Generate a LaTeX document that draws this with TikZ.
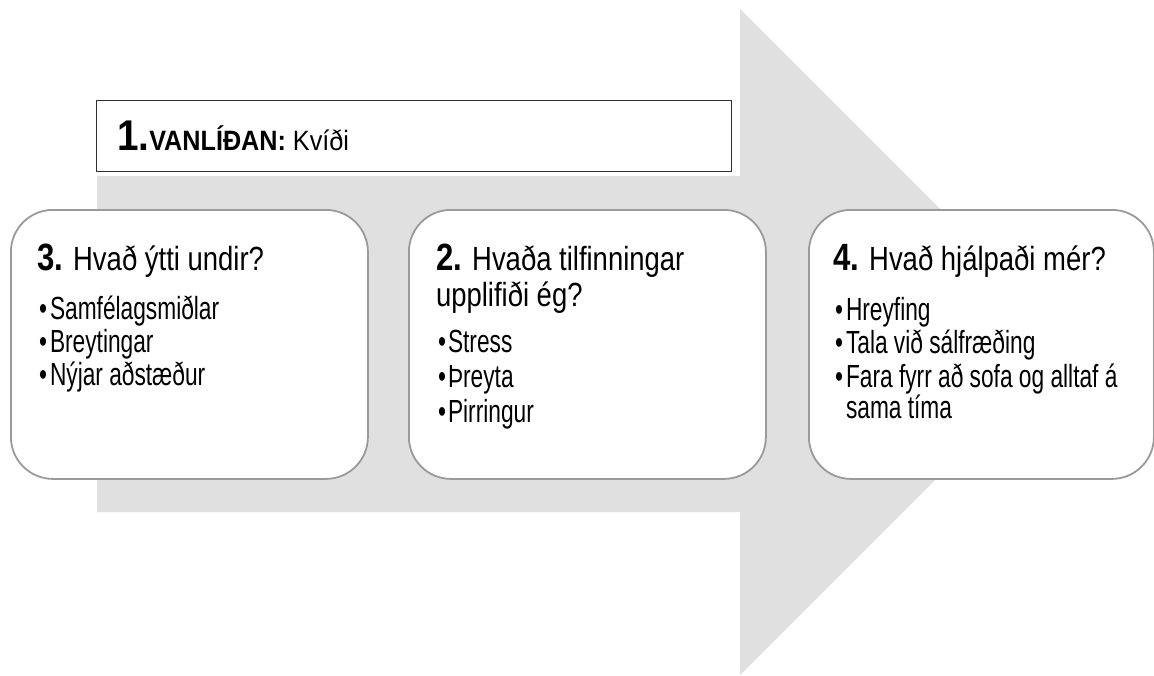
\documentclass[tikz,border=0pt]{standalone}
\usepackage{fontspec}
\setmainfont{Liberation Sans}[FakeStretch=0.9]
\newfontfamily\hdrfont{Liberation Sans}[FakeStretch=0.9]
\newfontfamily\ttlfont{Liberation Sans}[FakeStretch=0.82]
\newfontfamily\bulfont{Liberation Sans}[FakeStretch=0.71]
\definecolor{arrowgray}{HTML}{E0E0E0}
\definecolor{cardline}{HTML}{9A9A9A}
\definecolor{hdrline}{HTML}{303030}
\newcommand{\mynum}{\ttlfont\fontsize{38}{44}\selectfont\bfseries}
\newcommand{\mytitle}{\ttlfont\fontsize{33.5}{38}\selectfont\mdseries}
\newcommand{\mybul}{\bulfont\fontsize{32}{26.5}\selectfont}
\begin{document}
\begin{tikzpicture}[x=1pt,y=-1pt,
  card/.style={draw=cardline, line width=1.8pt, fill=white, rounded corners=42pt, anchor=north west, inner sep=0pt, minimum height=269pt},
  hdrbox/.style={draw=hdrline, line width=1.2pt, fill=white, anchor=north west, inner sep=0pt, minimum width=635pt, minimum height=71pt},
  txt/.style={anchor=base west, inner sep=0pt, outer sep=0pt}]
\useasboundingbox (0,0) rectangle (1154,675);
% big arrow
\fill[arrowgray] (97,176) -- (740,176) -- (740,9) -- (1073,342) -- (740,675) -- (740,512) -- (97,512) -- cycle;
% header box
\node[hdrbox] (hdr) at (96,100) {};
\node[txt] (hdrtxt) at (117,150) {\hdrfont{\fontsize{43}{48}\selectfont\bfseries 1.}{\fontsize{28}{32}\selectfont\bfseries VANLÍÐAN:}\fontsize{28}{32}\selectfont{} Kvíði};
% cards
\node[card, minimum width=357pt] (c3) at (10,209) {};
\node[card, minimum width=357pt] (c2) at (408,209) {};
\node[card, minimum width=345pt] (c4) at (808,209) {};
% card 3
\node[txt] (t3) at (37,270) {{\mynum 3.}\mytitle{} Hvað ýtti undir?};
\node[txt] (b3a) at (39,319) {\mybul •};
\node[txt] (i3a) at (50,319) {\mybul Samfélagsmiðlar};
\node[txt] (b3b) at (39,352) {\mybul •};
\node[txt] (i3b) at (50,352) {\mybul Breytingar};
\node[txt] (b3c) at (39,385) {\mybul •};
\node[txt] (i3c) at (50,385) {\mybul Nýjar aðstæður};
% card 2
\node[txt] (t2a) at (436,270) {{\mynum 2.}\mytitle{} Hvaða tilfinningar};
\node[txt] (t2b) at (436,306) {\mytitle upplifiði ég?};
\node[txt] (b2a) at (438,352) {\mybul •};
\node[txt] (i2a) at (448,352) {\mybul Stress};
\node[txt] (b2b) at (438,387) {\mybul •};
\node[txt] (i2b) at (448,387) {\mybul Þreyta};
\node[txt] (b2c) at (438,422) {\mybul •};
\node[txt] (i2c) at (448,422) {\mybul Pirringur};
% card 4
\node[txt] (t4) at (833,270) {{\mynum 4.}\mytitle{} Hvað hjálpaði mér?};
\node[txt] (b4a) at (835,320) {\mybul •};
\node[txt] (i4a) at (846,320) {\mybul Hreyfing};
\node[txt] (b4b) at (835,353) {\mybul •};
\node[txt] (i4b) at (846,353) {\mybul Tala við sálfræðing};
\node[txt] (b4c) at (835,387) {\mybul •};
\node[txt] (i4c) at (846,387) {\mybul\vtop{\baselineskip=26.5pt\hbox{Fara fyrr að sofa og alltaf á}\hbox{sama tíma}}};
\end{tikzpicture}
\end{document}
